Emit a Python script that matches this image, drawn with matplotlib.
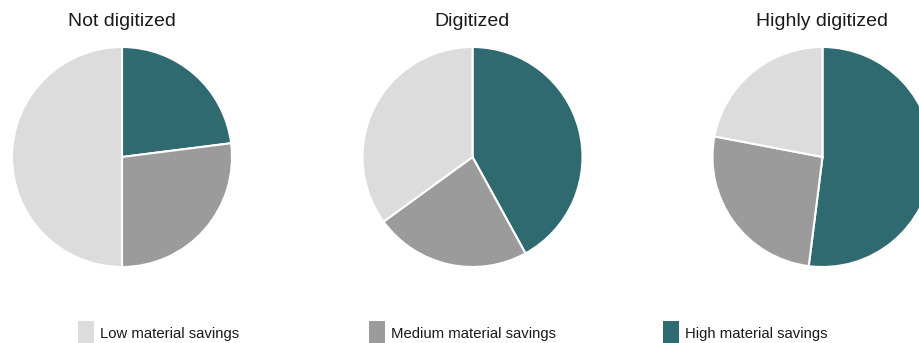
import matplotlib.pyplot as plt
from matplotlib.patches import Patch

plt.rcParams["font.family"] = ["Liberation Sans", "DejaVu Sans"]

# share of companies per savings level (%), order: high, medium, low
titles = ["Not digitized", "Digitized", "Highly digitized"]
high = [23, 42, 52]
medium = [27, 23, 26]
low = [50, 35, 22]

legend_labels = ["Low material savings", "Medium material savings", "High material savings"]

C_HIGH = "#2e6a70"
C_MED = "#9b9b9b"
C_LOW = "#dcdcdc"

W, H = 920, 343
fig = plt.figure(figsize=(W / 100, H / 100), dpi=100)

centers_x = [122, 472.5, 822.5]
cy = 157
r = 110

for i, title in enumerate(titles):
    cx = centers_x[i]
    ax = fig.add_axes([(cx - r) / W, (H - cy - r) / H, 2 * r / W, 2 * r / H])
    ax.pie(
        [high[i], medium[i], low[i]],
        colors=[C_HIGH, C_MED, C_LOW],
        startangle=90,
        counterclock=False,
        radius=1,
        wedgeprops=dict(edgecolor="white", linewidth=1.5),
    )
    ax.set_xlim(-1, 1)
    ax.set_ylim(-1, 1)
    ax.set_aspect("auto")
    ax.axis("off")
    fig.text(cx / W, 1 - 22 / H, title, ha="center", va="center",
             fontsize=14, color="#1a1a1a")

# legend items, evenly spaced along the bottom
leg_x = [78, 369, 663]
leg_colors = [C_LOW, C_MED, C_HIGH]
fs = 10.7
for x, lab, col in zip(leg_x, legend_labels, leg_colors):
    fig.legend(
        handles=[Patch(facecolor=col, edgecolor="none", label=lab)],
        loc="center left",
        bbox_to_anchor=(x / W, 1 - 333 / H),
        frameon=False,
        fontsize=fs,
        handlelength=1.08,
        handleheight=2.2,
        handletextpad=0.4,
        borderpad=0,
        borderaxespad=0,
        labelcolor="#1a1a1a",
    )

fig.savefig("out.png", dpi=100)
